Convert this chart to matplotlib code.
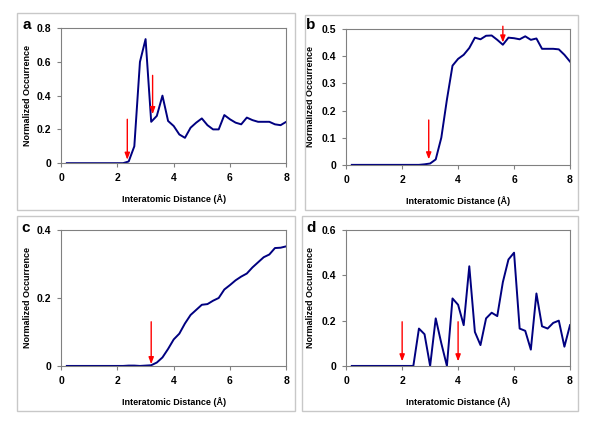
import matplotlib.pyplot as plt
from matplotlib.patches import Rectangle

plt.rcParams['font.family'] = ['Liberation Sans', 'DejaVu Sans']

# distance grid (Angstrom), 0.2 steps
dist = [round(0.2 * i, 1) for i in range(1, 41)]

occ_a = [0] * 11 + [0.01, 0.10, 0.60, 0.735, 0.245, 0.28, 0.40, 0.25, 0.22,
                    0.17, 0.15, 0.21, 0.24, 0.265, 0.225, 0.20, 0.20, 0.285, 0.26,
                    0.24, 0.23, 0.27, 0.255, 0.245, 0.245, 0.245, 0.23, 0.225, 0.245]
occ_b = [0] * 13 + [0.002, 0.005, 0.02, 0.10, 0.24, 0.365, 0.39, 0.405, 0.43,
                    0.468, 0.462, 0.475, 0.476, 0.46, 0.442, 0.468, 0.466, 0.462,
                    0.473, 0.46, 0.465, 0.427, 0.427, 0.427, 0.425, 0.405, 0.38]
occ_c = [0] * 11 + [0.001, 0.001, 0.0, 0.001, 0.002, 0.01, 0.025, 0.05, 0.078,
                    0.095, 0.125, 0.15, 0.165, 0.18, 0.182, 0.192, 0.20, 0.225,
                    0.238, 0.252, 0.263, 0.272, 0.29, 0.305, 0.32, 0.328, 0.347,
                    0.348, 0.352]
occ_d = [0] * 12 + [0.165, 0.14, 0.0, 0.21, 0.10, 0.0, 0.298, 0.27, 0.18, 0.44,
                    0.15, 0.092, 0.21, 0.235, 0.22, 0.37, 0.47, 0.50, 0.165, 0.155,
                    0.072, 0.32, 0.175, 0.165, 0.19, 0.20, 0.085, 0.18]

# red arrows: (x, y_start, y_end)
arrows_a = [(2.35, 0.26, 0.02), (3.25, 0.52, 0.29)]
arrows_b = [(2.95, 0.165, 0.02), (5.6, 0.51, 0.45)]
arrows_c = [(3.2, 0.13, 0.005)]
arrows_d = [(2.0, 0.195, 0.02), (4.0, 0.195, 0.02)]

yticks_a = [0, 0.2, 0.4, 0.6, 0.8]
yticks_b = [0, 0.1, 0.2, 0.3, 0.4, 0.5]
yticks_c = [0, 0.2, 0.4]
yticks_d = [0, 0.2, 0.4, 0.6]
xticks = [0, 2, 4, 6, 8]

fig = plt.figure(figsize=(6, 4.26), dpi=100)

# name, data, arrows, yticks, axes pos, frame px box, label px, ylabel x (axes frac)
panels = [
    ('a', occ_a, arrows_a, yticks_a, [0.102, 0.617, 0.375, 0.317], (17, 13, 295, 210), (27, 25), -0.129),
    ('b', occ_b, arrows_b, yticks_b, [0.577, 0.613, 0.373, 0.319], (305, 15, 578, 210), (311, 25), -0.138),
    ('c', occ_c, arrows_c, yticks_c, [0.102, 0.141, 0.375, 0.319], (17, 216, 295, 411), (26, 228), -0.129),
    ('d', occ_d, arrows_d, yticks_d, [0.577, 0.141, 0.373, 0.319], (302, 216, 578, 411), (311, 228), -0.138),
]

W, H = 600, 426
for label, occ, arrows, yticks, pos, frame, lab, ylx in panels:
    x0, y0, x1, y1 = frame
    fig.patches.append(Rectangle((x0 / W, 1 - y1 / H), (x1 - x0) / W, (y1 - y0) / H,
                                 transform=fig.transFigure, fill=False,
                                 edgecolor='#c8c8c8', linewidth=1))
    fig.text(lab[0] / W, 1 - lab[1] / H, label, fontsize=11, fontweight='bold',
             va='center', ha='center')

    ax = fig.add_axes(pos)
    ax.plot(dist, occ, color='#000080', linewidth=1.4)
    for x, ys, ye in arrows:
        ax.annotate('', xy=(x, ye), xytext=(x, ys),
                    arrowprops=dict(arrowstyle='-|>,head_length=0.4,head_width=0.15',
                                    color='red', linewidth=1, shrinkA=0, shrinkB=0),
                    annotation_clip=False)
    ax.set_xlim(0, 8)
    ax.set_ylim(0, yticks[-1])
    ax.set_xticks(xticks)
    ax.set_yticks(yticks)
    ax.set_xticklabels([str(t) for t in xticks])
    ax.set_yticklabels(['0' if t == 0 else f'{t:g}' for t in yticks])
    for s in ax.spines.values():
        s.set_color('#808080')
        s.set_linewidth(0.8)
    ax.tick_params(labelsize=7.5, length=3, width=0.8, color='#808080', pad=4)
    for t in ax.get_xticklabels() + ax.get_yticklabels():
        t.set_fontweight('bold')
    ax.set_xlabel('Interatomic Distance (Å)', fontsize=6.5, fontweight='bold')
    ax.set_ylabel('Normalized Occurrence', fontsize=6.5, fontweight='bold')
    ax.xaxis.set_label_coords(0.5, -0.23)
    ax.yaxis.set_label_coords(ylx, 0.5)

fig.savefig('out.png', dpi=100)
